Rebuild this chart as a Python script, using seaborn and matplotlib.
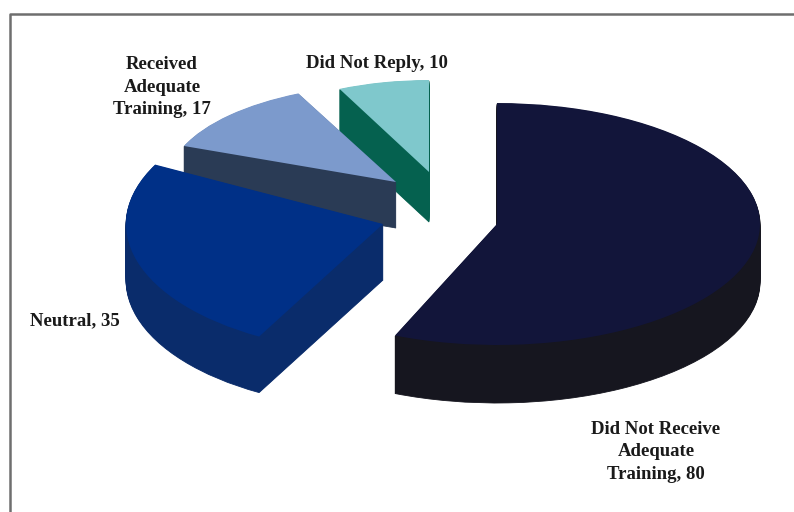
import numpy as np
import matplotlib
matplotlib.use("Agg")
import matplotlib.pyplot as plt
import seaborn as sns

sns.set_theme(style="white")
plt.rcParams['font.family'] = ['Liberation Serif', 'DejaVu Serif']

# data
categories = ["Did Not Receive\nAdequate\nTraining", "Neutral", "Received\nAdequate\nTraining", "Did Not Reply"]
values = [80, 35, 17, 10]

# styling
top_colors = ["#12153A", "#003087", "#7C9ACC", "#7FC8CC"]
side_colors = ["#16161F", "#0A2C6B", "#2A3B55", "#05614F"]
apex_px = [(497, 224), (383, 224), (396, 182), (429, 172)]
radius_px = [263, 257, 228, 209]
squash = [0.46, 0.50, 0.43, 0.44]
rotate_deg = [0, -6, 0, 0]
depth_px = [58, 56, 46, 50]
label_px = [(656, 452), (75, 321), (162, 87), (377, 64)]
draw_order = [3, 2, 1, 0]

W, H = 794, 512
fig = plt.figure(figsize=(W / 100, H / 100), dpi=100, facecolor="white")

total = sum(values)
starts = 90 - 360 * np.concatenate([[0], np.cumsum(values)[:-1]]) / total

for i in draw_order:
    ax = fig.add_axes([0, 0, 1, 1], label=f"wedge{i}")
    s = squash[i]
    frac = values[i] / total
    cx, cy = apex_px[i]
    r = radius_px[i]
    start = starts[i] + rotate_deg[i]
    for d in np.arange(depth_px[i], 0, -1.0):
        ax.pie([frac], colors=[side_colors[i]], startangle=start, counterclock=False,
               normalize=False, radius=r, center=(cx, (H - cy - d) / s),
               wedgeprops=dict(linewidth=0.6, edgecolor=side_colors[i]))
    ax.pie([frac], colors=[top_colors[i]], startangle=start, counterclock=False,
           normalize=False, radius=r, center=(cx, (H - cy) / s),
           wedgeprops=dict(linewidth=0))
    ax.set_aspect("auto")
    ax.set_xlim(0, W)
    ax.set_ylim(0, H / s)
    ax.axis("off")

for i, cat in enumerate(categories):
    txt = cat + f", {values[i]}"
    x, y = label_px[i]
    fig.text(x / W, 1 - y / H, txt, ha="center", va="center", fontsize=13.5, fontweight="bold",
             color="#1a1a1a", linespacing=1.45)

# chart frame
frame_x = [10 / W, 10 / W, 1]
frame_y = [0, 1 - 14 / H, 1 - 14 / H]
fig.add_artist(plt.Line2D(frame_x, frame_y, color="#6e6e6e", lw=1.8, transform=fig.transFigure))

fig.savefig("out.png", dpi=100)
